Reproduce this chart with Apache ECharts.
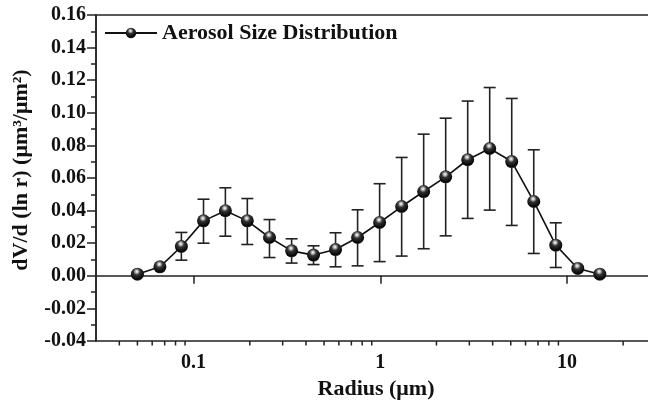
<!DOCTYPE html>
<html>
<head>
<meta charset="utf-8">
<script src="https://cdn.jsdelivr.net/npm/echarts@6/dist/echarts.min.js"></script>
<style>
  html, body { margin: 0; padding: 0; background: #fff; }
  #chart { width: 648px; height: 403px; }
</style>
</head>
<body>
<div id="chart"></div>
<script>
// radius bins (um) and volume size distribution
var radius = [0.050, 0.066, 0.086, 0.113, 0.148, 0.194, 0.255, 0.335, 0.439, 0.576, 0.756,
              0.992, 1.302, 1.708, 2.241, 2.940, 3.857, 5.061, 6.641, 8.713, 11.432, 15.000];
var dv = [0.0010, 0.0055, 0.0180, 0.0337, 0.0399, 0.0337, 0.0235, 0.0153, 0.0127, 0.0161, 0.0235,
          0.0327, 0.0425, 0.0517, 0.0607, 0.0712, 0.0781, 0.0701, 0.0456, 0.0188, 0.0045, 0.0010];
// error bar ends (null = no visible bar)
var errHigh = [null, null, 0.0266, 0.0470, 0.0540, 0.0474, 0.0345, 0.0227, 0.0184, 0.0264, 0.0405,
               0.0565, 0.0726, 0.0869, 0.0967, 0.1072, 0.1155, 0.1088, 0.0773, 0.0325, null, null];
var errLow = [null, null, 0.0096, 0.0200, 0.0243, 0.0192, 0.0112, 0.0078, 0.0069, 0.0055, 0.0061,
              0.0087, 0.0121, 0.0166, 0.0245, 0.0352, 0.0403, 0.0309, 0.0137, 0.0051, null, null];
// minor ticks of the log axis
var xMinorTicks = [0.04, 0.05, 0.06, 0.07, 0.08, 0.09,
                   0.2, 0.3, 0.4, 0.5, 0.6, 0.7, 0.8, 0.9,
                   2, 3, 4, 5, 6, 7, 8, 9, 20];

var serif = '"Liberation Serif", "DejaVu Serif", serif';
var ink = '#111';

var chart = echarts.init(document.getElementById('chart'));

var ball = new echarts.graphic.RadialGradient(0.45, 0.3, 0.75, [
  { offset: 0, color: '#ffffff' },
  { offset: 0.12, color: '#c8c8c8' },
  { offset: 0.35, color: '#333333' },
  { offset: 0.8, color: '#050505' },
  { offset: 1, color: '#444444' }
]);

var lineData = radius.map(function (r, i) { return [r, dv[i]]; });
var errData = [];
radius.forEach(function (r, i) {
  if (errHigh[i] != null) errData.push([r, errLow[i], errHigh[i]]);
});

var option = {
  animation: false,
  backgroundColor: '#fff',
  grid: {
    left: 96, top: 15, right: -8, bottom: 62,
    outerBoundsMode: 'none',
    show: true, borderColor: '#222', borderWidth: 1.5
  },
  legend: {
    left: 104, top: 22, padding: 0,
    itemWidth: 52, itemHeight: 13,
    data: ['Aerosol Size Distribution'],
    textStyle: { fontFamily: serif, fontWeight: 'bold', fontSize: 22, color: ink }
  },
  xAxis: {
    type: 'log', logBase: 10, min: 0.03, max: 30,
    name: 'Radius (μm)', nameLocation: 'middle', nameGap: 32,
    nameTextStyle: { fontFamily: serif, fontWeight: 'bold', fontSize: 22, color: ink },
    axisLine: { lineStyle: { color: '#222', width: 1.5 } },
    axisTick: { inside: false, length: 8, lineStyle: { color: '#222', width: 1.5 } },
    axisLabel: {
      margin: 12, showMinLabel: false, showMaxLabel: false,
      fontFamily: serif, fontWeight: 'bold', fontSize: 20, color: ink
    },
    splitLine: { show: false }
  },
  yAxis: {
    type: 'value', min: -0.04, max: 0.16, interval: 0.02,
    name: 'dV/d (ln r) (μm³/μm²)', nameLocation: 'middle', nameGap: 64,
    nameTextStyle: { fontFamily: serif, fontWeight: 'bold', fontSize: 22, color: ink, padding: [0, 0, 0, 16] },
    axisLine: { show: true, lineStyle: { color: '#222', width: 1.5 } },
    axisTick: { show: true, inside: false, length: 9, lineStyle: { color: '#222', width: 1.5 } },
    minorTick: { show: true, splitNumber: 2, length: 5, lineStyle: { color: '#222', width: 1.5 } },
    axisLabel: {
      margin: 10,
      fontFamily: serif, fontWeight: 'bold', fontSize: 20, color: ink,
      formatter: function (v) { return v.toFixed(2); }
    },
    splitLine: { show: false }
  },
  series: [
    {
      // minor ticks on the log x axis
      type: 'custom',
      silent: true, clip: false, z: 1,
      data: xMinorTicks.map(function (v) { return [v]; }),
      renderItem: function (params, api) {
        var p = api.coord([api.value(0), -0.04]);
        return {
          type: 'line',
          shape: { x1: p[0], y1: p[1], x2: p[0], y2: p[1] + 4.5 },
          style: { stroke: '#222', lineWidth: 1.5 }
        };
      }
    },
    {
      // error bars
      type: 'custom',
      silent: true, clip: false, z: 2,
      data: errData,
      renderItem: function (params, api) {
        var lo = api.coord([api.value(0), api.value(1)]);
        var hi = api.coord([api.value(0), api.value(2)]);
        var w = 6;
        var st = { stroke: '#222', lineWidth: 1.6 };
        return {
          type: 'group',
          children: [
            { type: 'line', shape: { x1: lo[0], y1: lo[1], x2: hi[0], y2: hi[1] }, style: st },
            { type: 'line', shape: { x1: hi[0] - w, y1: hi[1], x2: hi[0] + w, y2: hi[1] }, style: st },
            { type: 'line', shape: { x1: lo[0] - w, y1: lo[1], x2: lo[0] + w, y2: lo[1] }, style: st }
          ]
        };
      }
    },
    {
      name: 'Aerosol Size Distribution',
      type: 'line',
      z: 3,
      data: lineData,
      symbol: 'circle',
      symbolSize: 13,
      showAllSymbol: true,
      lineStyle: { color: '#111', width: 1.6 },
      itemStyle: { color: ball, borderWidth: 0 }
    }
  ]
};

chart.setOption(option);
</script>
</body>
</html>
